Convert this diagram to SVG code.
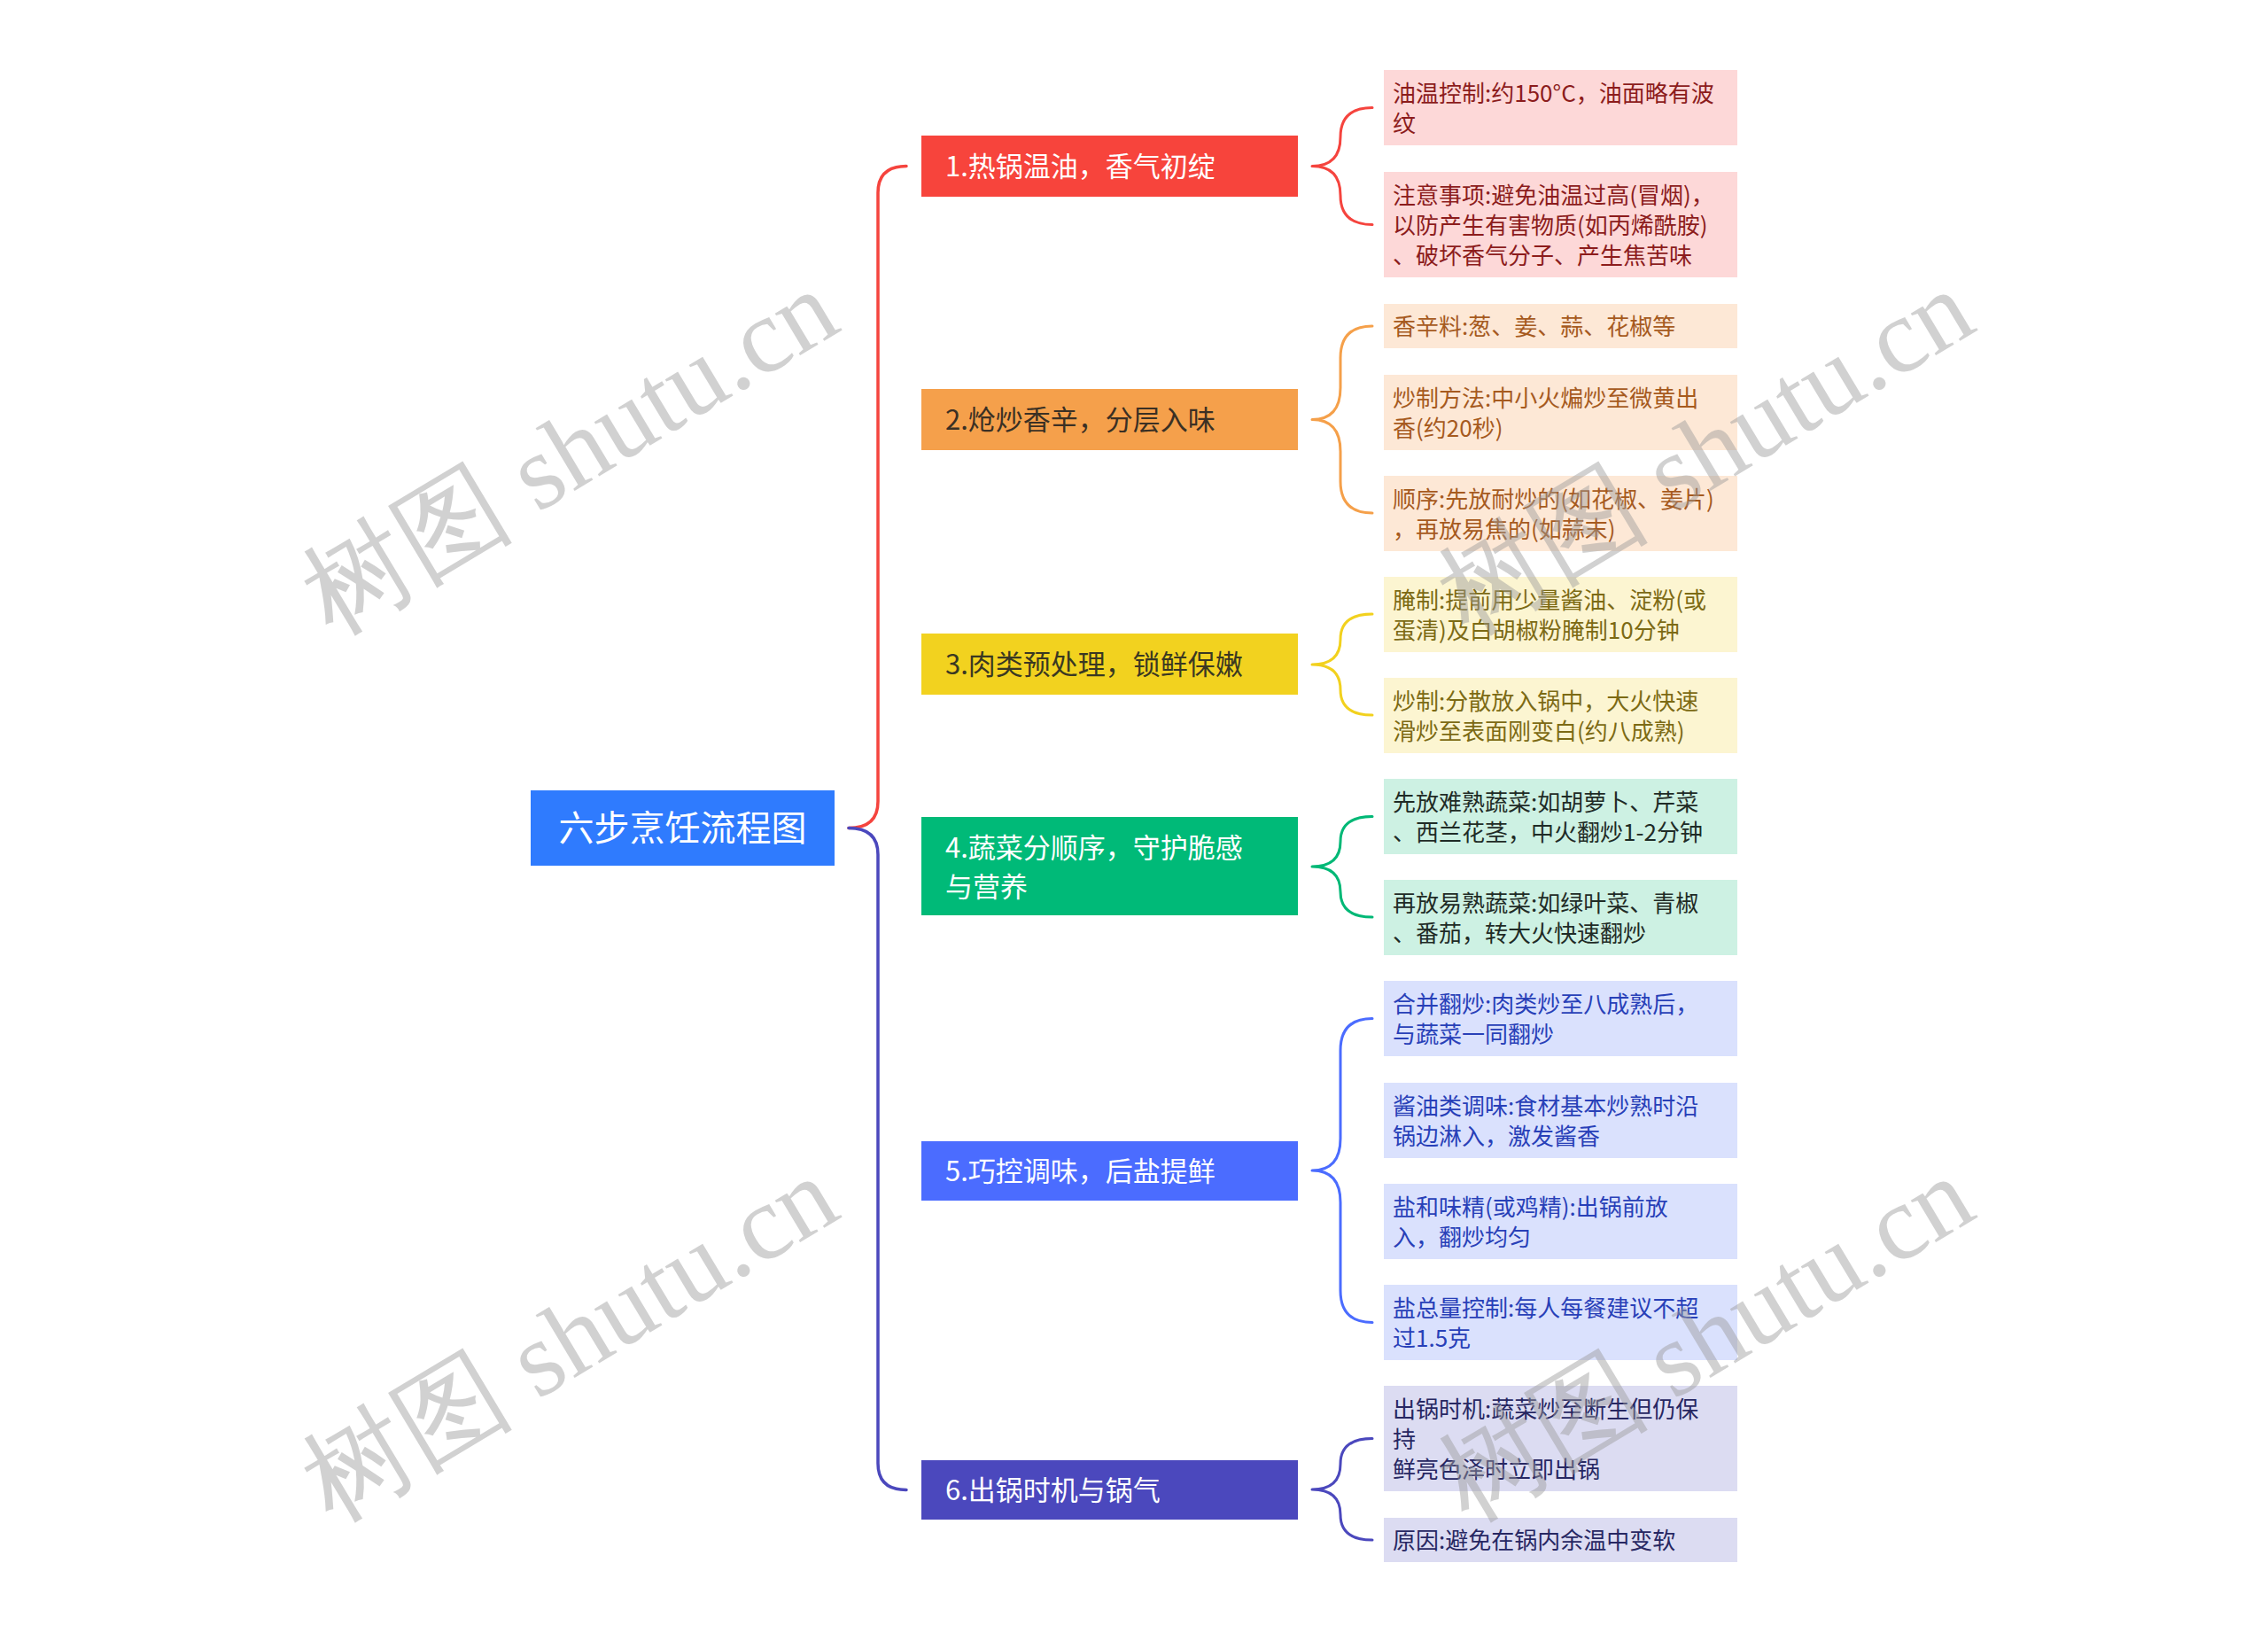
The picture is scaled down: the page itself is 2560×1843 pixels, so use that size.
<svg xmlns="http://www.w3.org/2000/svg" width="2560" height="1843" viewBox="0 0 2560 1843">
<style>
.t{font-family:"Noto Sans CJK SC","Noto Sans",sans-serif;}
.root{font-size:40px;fill:#ffffff;}
.br{font-size:31px;}
.lf{font-size:26px;}
.c{fill:none;stroke-width:3.5;stroke-linecap:round;}
.sc{fill:none;stroke-width:3;stroke-linecap:round;}
.wm{font-family:"Liberation Serif",serif;font-size:120px;fill:#9a9a9a;opacity:0.45;}
</style>
<rect width="2560" height="1843" fill="#ffffff"/>
<g id="connectors">
<path class="c" stroke="#f5443e" d="M958,934.5 Q991,934.5 991,904.5 L991,217.5 Q991,187.5 1023,187.5"/>
<path class="c" stroke="#4b48bd" d="M958,934.5 Q991,934.5 991,964.5 L991,1651.5 Q991,1681.5 1023,1681.5"/>
<path class="sc" stroke="#f5443e" d="M1481,187.5 Q1513,187.5 1513,154.5 L1513,154.5 Q1513,121.5 1549,121.5 M1481,187.5 Q1513,187.5 1513,220.5 Q1513,253.5 1549,253.5"/>
<path class="sc" stroke="#f5a04a" d="M1481,473.5 Q1513,473.5 1513,437.5 L1513,404 Q1513,368 1549,368 M1481,473.5 Q1513,473.5 1513,509.5 L1513,543 Q1513,579 1549,579"/>
<path class="sc" stroke="#f2d11e" d="M1481,750 Q1513,750 1513,721.5 Q1513,693 1549,693 M1481,750 Q1513,750 1513,778.5 Q1513,807 1549,807"/>
<path class="sc" stroke="#00b876" d="M1481,978 Q1513,978 1513,949.75 Q1513,921.5 1549,921.5 M1481,978 Q1513,978 1513,1006.5 Q1513,1035 1549,1035"/>
<path class="sc" stroke="#4b6cff" d="M1481,1321 Q1513,1321 1513,1285 L1513,1185.5 Q1513,1149.5 1549,1149.5 M1481,1321 Q1513,1321 1513,1357 L1513,1456.5 Q1513,1492.5 1549,1492.5"/>
<path class="sc" stroke="#4b48bd" d="M1481,1681 Q1513,1681 1513,1652.25 Q1513,1623.5 1549,1623.5 M1481,1681 Q1513,1681 1513,1709.5 Q1513,1738 1549,1738"/>
</g>
<g id="root">
<rect x="599" y="892" width="343" height="85" fill="#2f7bfe"/>
<text class="t root" x="770.5" y="949" text-anchor="middle">六步烹饪流程图</text>
</g>
<g id="b1">
<rect x="1040" y="153" width="425" height="69" fill="#f7443c"/>
<text class="t br" x="1067" y="198.5" fill="#ffffff">1.热锅温油，香气初绽</text>
</g>
<g id="b2">
<rect x="1040" y="439" width="425" height="69" fill="#f5a04b"/>
<text class="t br" x="1067" y="484.5" fill="#3b3024">2.炝炒香辛，分层入味</text>
</g>
<g id="b3">
<rect x="1040" y="715" width="425" height="69" fill="#f2d21f"/>
<text class="t br" x="1067" y="760.5" fill="#3a3822">3.肉类预处理，锁鲜保嫩</text>
</g>
<g id="b4">
<rect x="1040" y="922" width="425" height="111" fill="#00ba78"/>
<text class="t br" x="1067" fill="#ffffff"><tspan x="1067" y="967.5">4.蔬菜分顺序，守护脆感</tspan><tspan x="1067" y="1011.5">与营养</tspan></text>
</g>
<g id="b5">
<rect x="1040" y="1288" width="425" height="67" fill="#4b6cff"/>
<text class="t br" x="1067" y="1332.5" fill="#ffffff">5.巧控调味，后盐提鲜</text>
</g>
<g id="b6">
<rect x="1040" y="1648" width="425" height="67" fill="#4b48bd"/>
<text class="t br" x="1067" y="1692.5" fill="#ffffff">6.出锅时机与锅气</text>
</g>
<g id="l1a">
<rect x="1562" y="79" width="399" height="85" fill="#fdd8d8"/>
<text class="t lf" fill="#8c1c1c"><tspan x="1572" y="114.5">油温控制:约150°C，油面略有波</tspan><tspan x="1572" y="148.5">纹</tspan></text>
</g>
<g id="l1b">
<rect x="1562" y="194" width="399" height="119" fill="#fdd8d8"/>
<text class="t lf" fill="#8c1c1c"><tspan x="1572" y="229.5">注意事项:避免油温过高(冒烟)，</tspan><tspan x="1572" y="263.5">以防产生有害物质(如丙烯酰胺)</tspan><tspan x="1572" y="297.5">、破坏香气分子、产生焦苦味</tspan></text>
</g>
<g id="l2a">
<rect x="1562" y="343" width="399" height="50" fill="#fde8d6"/>
<text class="t lf" fill="#a65a1e"><tspan x="1572" y="378">香辛料:葱、姜、蒜、花椒等</tspan></text>
</g>
<g id="l2b">
<rect x="1562" y="423" width="399" height="85" fill="#fde8d6"/>
<text class="t lf" fill="#a65a1e"><tspan x="1572" y="458.5">炒制方法:中小火煸炒至微黄出</tspan><tspan x="1572" y="492.5">香(约20秒)</tspan></text>
</g>
<g id="l2c">
<rect x="1562" y="537" width="399" height="85" fill="#fde8d6"/>
<text class="t lf" fill="#a65a1e"><tspan x="1572" y="572.5">顺序:先放耐炒的(如花椒、姜片)</tspan><tspan x="1572" y="606.5">，再放易焦的(如蒜末)</tspan></text>
</g>
<g id="l3a">
<rect x="1562" y="651" width="399" height="85" fill="#fcf5d1"/>
<text class="t lf" fill="#7c6a14"><tspan x="1572" y="686.5">腌制:提前用少量酱油、淀粉(或</tspan><tspan x="1572" y="720.5">蛋清)及白胡椒粉腌制10分钟</tspan></text>
</g>
<g id="l3b">
<rect x="1562" y="765" width="399" height="85" fill="#fcf5d1"/>
<text class="t lf" fill="#7c6a14"><tspan x="1572" y="800.5">炒制:分散放入锅中，大火快速</tspan><tspan x="1572" y="834.5">滑炒至表面刚变白(约八成熟)</tspan></text>
</g>
<g id="l4a">
<rect x="1562" y="879" width="399" height="85" fill="#cdf1e3"/>
<text class="t lf" fill="#1f2b26"><tspan x="1572" y="914.5">先放难熟蔬菜:如胡萝卜、芹菜</tspan><tspan x="1572" y="948.5">、西兰花茎，中火翻炒1-2分钟</tspan></text>
</g>
<g id="l4b">
<rect x="1562" y="993" width="399" height="85" fill="#cdf1e3"/>
<text class="t lf" fill="#1f2b26"><tspan x="1572" y="1028.5">再放易熟蔬菜:如绿叶菜、青椒</tspan><tspan x="1572" y="1062.5">、番茄，转大火快速翻炒</tspan></text>
</g>
<g id="l5a">
<rect x="1562" y="1107" width="399" height="85" fill="#dae1fd"/>
<text class="t lf" fill="#2840b8"><tspan x="1572" y="1142.5">合并翻炒:肉类炒至八成熟后，</tspan><tspan x="1572" y="1176.5">与蔬菜一同翻炒</tspan></text>
</g>
<g id="l5b">
<rect x="1562" y="1222" width="399" height="85" fill="#dae1fd"/>
<text class="t lf" fill="#2840b8"><tspan x="1572" y="1257.5">酱油类调味:食材基本炒熟时沿</tspan><tspan x="1572" y="1291.5">锅边淋入，激发酱香</tspan></text>
</g>
<g id="l5c">
<rect x="1562" y="1336" width="399" height="85" fill="#dae1fd"/>
<text class="t lf" fill="#2840b8"><tspan x="1572" y="1371.5">盐和味精(或鸡精):出锅前放</tspan><tspan x="1572" y="1405.5">入，翻炒均匀</tspan></text>
</g>
<g id="l5d">
<rect x="1562" y="1450" width="399" height="85" fill="#dae1fd"/>
<text class="t lf" fill="#2840b8"><tspan x="1572" y="1485.5">盐总量控制:每人每餐建议不超</tspan><tspan x="1572" y="1519.5">过1.5克</tspan></text>
</g>
<g id="l6a">
<rect x="1562" y="1564" width="399" height="119" fill="#dcdcf2"/>
<text class="t lf" fill="#272762"><tspan x="1572" y="1599.5">出锅时机:蔬菜炒至断生但仍保</tspan><tspan x="1572" y="1633.5">持</tspan><tspan x="1572" y="1667.5">鲜亮色泽时立即出锅</tspan></text>
</g>
<g id="l6b">
<rect x="1562" y="1713" width="399" height="50" fill="#dcdcf2"/>
<text class="t lf" fill="#272762"><tspan x="1572" y="1748">原因:避免在锅内余温中变软</tspan></text>
</g>
<g id="watermarks">
<text class="wm" x="645" y="550" text-anchor="middle" transform="rotate(-31 645 514)">树图 shutu.cn</text>
<text class="wm" x="1927" y="550" text-anchor="middle" transform="rotate(-31 1927 514)">树图 shutu.cn</text>
<text class="wm" x="645" y="1551" text-anchor="middle" transform="rotate(-31 645 1515)">树图 shutu.cn</text>
<text class="wm" x="1927" y="1551" text-anchor="middle" transform="rotate(-31 1927 1515)">树图 shutu.cn</text>
</g>
</svg>
